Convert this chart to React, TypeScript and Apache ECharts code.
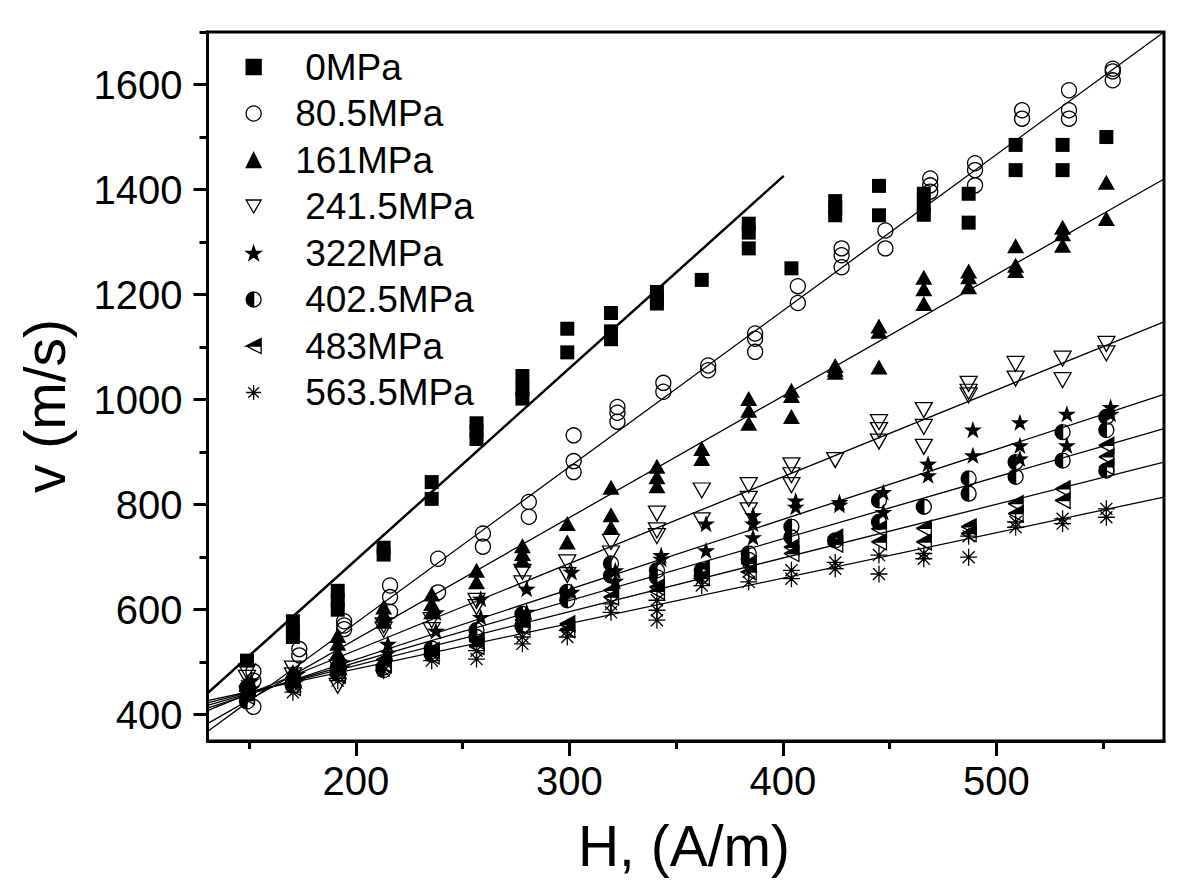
import React, { useEffect, useRef } from 'react';
import * as echarts from 'echarts';

// ---------- data ----------
const SERIES_NAMES = ['0MPa', '80.5MPa', '161MPa', '241.5MPa', '322MPa', '402.5MPa', '483MPa', '563.5MPa'];

// magnetic field columns (A/m)
const H_COLUMNS = [149, 170.5, 191.5, 213, 235.5, 256.5, 278, 299, 319.5, 341, 362, 384, 404, 424.5, 445, 466, 487, 509, 531, 551.5];
// small horizontal shift of some series within a column
const H_SHIFT = [0, 3, 0, 0, 2, 0, 0, 0];

const V_0 = [[503], [578, 560, 548], [636, 618, 600], [718, 705], [843, 811], [955, 940, 925], [1045, 1020, 1002], [1135, 1090], [1165, 1130, 1115], [1205, 1192, 1183], [1228], [1335, 1318, 1288], [1250], [1378, 1365, 1351], [1407, 1351], [1392, 1368, 1352], [1392, 1337], [1485, 1437], [1485, 1437], [1500]];
const V_80 = [[482, 465, 415], [525, 513], [578, 570, 563], [646, 624, 596], [697, 633], [745, 720], [805, 777], [932, 883, 862], [986, 975, 958], [1032, 1015], [1065, 1056], [1126, 1116, 1091], [1216, 1184], [1288, 1275, 1252], [1322, 1288], [1421, 1408, 1396], [1450, 1437, 1408], [1551, 1535], [1589, 1551, 1535], [1630, 1625, 1608]];
const V_161 = [[458, 440], [482, 472], [551, 536, 518], [605, 592, 578], [630, 612, 596], [675, 653], [722, 707, 694], [764, 729], [833, 781, 757], [873, 853, 836], [907, 888], [1002, 980, 955], [1018, 1008, 968], [1065, 1058, 1052], [1140, 1130, 1062], [1233, 1211, 1183], [1245, 1234, 1215], [1293, 1256, 1246], [1328, 1316, 1294], [1414, 1345]];
const V_241 = [[482, 470], [488, 475], [490, 455], [570, 562], [580, 561], [617, 605], [672, 650], [690, 666], [729, 707], [783, 751, 740], [827, 770], [837, 811, 789], [875, 856, 837], [885], [957, 942, 920], [980, 948, 910], [1030, 1015, 1008], [1068, 1040], [1078, 1037], [1106, 1088]];
const V_322 = [[465, 450], [478, 465], [500, 490], [535, 518], [595, 560], [621, 586], [640, 596], [672, 634], [675, 655], [704, 697], [764, 713], [780, 764, 738], [808, 796], [805, 800], [824, 786], [878, 856], [943, 894], [957, 913, 888], [973, 913], [986, 973]];
const V_402 = [[452, 425], [465, 455], [490, 478], [490, 485], [526, 515], [561, 548], [592, 570], [634, 618], [688, 665], [675, 662], [675, 665], [707, 695], [758, 738], [732], [808, 767], [796], [850, 821], [881, 853], [938, 884], [967, 942, 865]];
const V_483 = [[445, 435], [462, 452], [485, 475], [505, 495], [522, 512], [540, 530], [580, 567], [573, 562], [637, 624], [643, 635], [678, 662], [688, 672], [719, 707], [738, 725], [754, 729], [755, 729], [758, 745], [802, 783], [830, 808], [913, 891, 872]];
const V_563 = [[455, 440], [455, 443], [475, 465], [493, 484], [515, 503], [522, 506], [548, 535], [560, 548], [611, 595], [618, 599, 580], [659, 646], [672, 653], [675, 659], [690, 678], [704, 668], [707, 697], [740, 700], [767, 757], [773, 764], [792, 776]];
const V_ALL = [V_0, V_80, V_161, V_241, V_322, V_402, V_483, V_563];

// linear fits: [start H, start v], [end H, end v]
const FIT_LINES = [
  [[130.5, 441], [400.4, 1426]],
  [[130.5, 368], [578.5, 1700]],
  [[130.5, 383], [578.5, 1420]],
  [[130.5, 408], [578.5, 1148]],
  [[130.5, 412.6], [578.5, 1010]],
  [[130.5, 417.7], [578.5, 945]],
  [[130.5, 422.8], [578.5, 881]],
  [[130.5, 427], [578.5, 814.5]],
];

const X_MIN = 130.5;
const X_MAX = 578.5;
const Y_MIN = 350;
const Y_MAX = 1700;
const X_MAJOR = [200, 300, 400, 500];
const X_MINOR = [150, 250, 350, 450, 550];
const Y_MAJOR = [400, 600, 800, 1000, 1200, 1400, 1600];
const Y_MINOR = [500, 700, 900, 1100, 1300, 1500, 1700];

// ---------- symbols ----------
const FONT = '"Liberation Sans", Arial, Helvetica, sans-serif';
const starPath = (() => {
  let d = '';
  for (let k = 0; k < 10; k++) {
    const r = k % 2 === 0 ? 10 : 3.9;
    const a = -Math.PI / 2 + (k * Math.PI) / 5;
    d += (k === 0 ? 'M' : 'L') + (10 + r * Math.cos(a)).toFixed(2) + ',' + (10 + r * Math.sin(a)).toFixed(2);
  }
  return 'path://' + d + 'Z';
})();
const DOWN_TRI = 'path://M0,0L10,0L5,8.66Z';
const HALF_CIRCLE = 'path://M5,0A5,5 0 0,0 5,10ZM5,0A5,5 0 0,1 5,10A5,5 0 0,0 5,0';
const HALF_LEFT_TRI = 'path://M0,5L10,0L10,5ZM0,5L10,10L10,5L10,10L0,5';
const ASTERISK = 'path://M5,0L5,10L5,0M0,5L10,5L0,5M1.46,1.46L8.54,8.54L1.46,1.46M1.46,8.54L8.54,1.46L1.46,8.54';

const HOLLOW = 'rgba(0,0,0,0)';
const SYMBOLS: any[] = [
  { symbol: 'rect', size: 14, fill: '#000', bw: 0 },
  { symbol: 'circle', size: 15, fill: HOLLOW, bw: 1.3 },
  { symbol: 'triangle', size: [17, 15], fill: '#000', bw: 0 },
  { symbol: DOWN_TRI, size: [17, 15], fill: HOLLOW, bw: 1.3 },
  { symbol: starPath, size: 18, fill: '#000', bw: 0 },
  { symbol: HALF_CIRCLE, size: 15, fill: '#000', bw: 1.3 },
  { symbol: HALF_LEFT_TRI, size: [15, 16], fill: '#000', bw: 1.3 },
  { symbol: ASTERISK, size: 17, fill: '#000', bw: 1.3 },
];

export default function App() {
  const ref = useRef<HTMLDivElement>(null);
  useEffect(() => {
    if (!ref.current) return;
    const chart = echarts.init(ref.current, null, { renderer: 'svg' });

    const lineSeries = FIT_LINES.map((pts, i) => ({
      name: 'fit ' + SERIES_NAMES[i],
      type: 'line',
      data: pts,
      symbol: 'none',
      silent: true,
      z: 1,
      lineStyle: { color: '#000', width: i === 0 ? 2.5 : 1.3 },
    }));

    const scatterSeries = SERIES_NAMES.map((name, i) => {
      const data: number[][] = [];
      V_ALL[i].forEach((vals, c) => {
        vals.forEach((v) => data.push([H_COLUMNS[c] + H_SHIFT[i], v]));
      });
      const s = SYMBOLS[i];
      return {
        name,
        type: 'scatter',
        data,
        symbol: s.symbol,
        symbolSize: s.size,
        symbolKeepAspect: i === 4,
        z: 2,
        itemStyle: { color: s.fill, borderColor: '#000', borderWidth: s.bw, opacity: 1 },
      };
    });

    const tickLine = { color: '#000', width: 3 };
    const plain = (v: number) => String(v);

    chart.setOption({
      animation: false,
      backgroundColor: '#fff',
      grid: { left: 207.5, right: 36, top: 32, bottom: 153, show: true, borderColor: '#000', borderWidth: 3, containLabel: false },
      legend: {
        data: SERIES_NAMES,
        orient: 'vertical',
        left: 245.5,
        top: 47,
        padding: 0,
        itemGap: 6.5,
        itemWidth: 15,
        itemHeight: 15,
        selectedMode: false,
        itemStyle: { borderWidth: 1.3 },
        formatter: (n: string) => (n === '80.5MPa' || n === '161MPa' ? `{a|${n}}` : `{b|${n}}`),
        textStyle: {
          fontSize: 37,
          fontFamily: FONT,
          color: '#000',
          lineHeight: 40,
          rich: {
            a: { fontSize: 37, fontFamily: FONT, color: '#000', lineHeight: 40, padding: [0, 0, 0, 29] },
            b: { fontSize: 37, fontFamily: FONT, color: '#000', lineHeight: 40, padding: [0, 0, 0, 39] },
          },
        },
      },
      xAxis: [
        {
          type: 'value', min: X_MIN, max: X_MAX, position: 'bottom',
          axisLine: { show: true, onZero: false, lineStyle: { color: '#000', width: 3 } },
          axisTick: { show: true, inside: false, length: 15, customValues: X_MAJOR, lineStyle: tickLine },
          axisLabel: { show: true, customValues: X_MAJOR, formatter: plain, fontSize: 40, fontFamily: FONT, color: '#000', margin: 20 },
          splitLine: { show: false },
        },
        {
          type: 'value', min: X_MIN, max: X_MAX, position: 'bottom', offset: 0,
          axisLine: { show: false, onZero: false },
          axisTick: { show: true, inside: false, length: 8, customValues: X_MINOR, lineStyle: tickLine },
          axisLabel: { show: false },
          splitLine: { show: false },
        },
      ],
      yAxis: [
        {
          type: 'value', min: Y_MIN, max: Y_MAX, position: 'left',
          axisLine: { show: true, onZero: false, lineStyle: { color: '#000', width: 3 } },
          axisTick: { show: true, inside: false, length: 14, customValues: Y_MAJOR, lineStyle: tickLine },
          axisLabel: { show: true, customValues: Y_MAJOR, formatter: plain, fontSize: 40, fontFamily: FONT, color: '#000', margin: 25 },
          splitLine: { show: false },
        },
        {
          type: 'value', min: Y_MIN, max: Y_MAX, position: 'left', offset: 0,
          axisLine: { show: false, onZero: false },
          axisTick: { show: true, inside: false, length: 8, customValues: Y_MINOR, lineStyle: tickLine },
          axisLabel: { show: false },
          splitLine: { show: false },
        },
      ],
      graphic: [
        {
          type: 'text', x: 684, y: 846, silent: true,
          style: { text: 'H, (A/m)', fontSize: 57, fontFamily: FONT, fill: '#000', align: 'center', verticalAlign: 'middle' },
        },
        {
          type: 'text', x: 45, y: 406, rotation: Math.PI / 2, silent: true,
          style: { text: 'v (m/s)', fontSize: 57, fontFamily: FONT, fill: '#000', align: 'center', verticalAlign: 'middle' },
        },
      ],
      series: [...lineSeries, ...scatterSeries],
    });

    return () => chart.dispose();
  }, []);

  return <div ref={ref} style={{ position: 'absolute', left: 0, top: 0, width: 1200, height: 894, background: '#fff' }} />;
}
